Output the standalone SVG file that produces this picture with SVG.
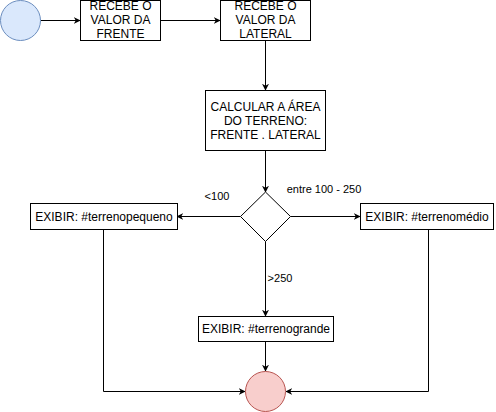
<svg xmlns="http://www.w3.org/2000/svg" width="496" height="412" viewBox="0 0 496 412">
<defs>
<marker id="arr" viewBox="0 0 10 10" refX="9" refY="5" markerWidth="7" markerHeight="7" markerUnits="userSpaceOnUse" orient="auto">
<path d="M0,0 L10,5 L0,10 L3,5 Z" fill="#000"/>
</marker>
</defs>
<style>
.box{fill:#fff;stroke:#000;stroke-width:1}
.t{font-family:"Liberation Sans",Arial,sans-serif;font-size:12px;fill:#000;text-anchor:middle}
.lbl{font-family:"Liberation Sans",Arial,sans-serif;font-size:11px;fill:#000;text-anchor:middle}
.c{fill:none;stroke:#000;stroke-width:1;marker-end:url(#arr)}
</style>
<rect width="496" height="412" fill="#fff"/>
<g id="connectors">
<path class="c" d="M40.5,20.5 H80"/>
<path class="c" d="M160.5,20.5 H220"/>
<path class="c" d="M265.5,40.5 V90"/>
<path class="c" d="M265.5,150.5 V192"/>
<path class="c" d="M240.5,216.5 H177"/>
<path class="c" d="M290.5,216.5 H360"/>
<path class="c" d="M265.5,241.5 V316"/>
<path class="c" d="M265.5,341.5 V371"/>
<path class="c" d="M103.5,229.5 V391.5 H245"/>
<path class="c" d="M428.5,229.5 V391.5 H286"/>
<text class="lbl" x="217" y="200">&lt;100</text>
<text class="lbl" x="324" y="193">entre 100 - 250</text>
<text class="lbl" x="280" y="282">&gt;250</text>
</g>
<g id="start">
<circle cx="20.5" cy="20.5" r="20" fill="#dae8fc" stroke="#6c8ebf"/>
</g>
<g id="frente">
<rect class="box" x="80.5" y="0.5" width="80" height="40"/>
<text class="t" x="120.5" y="10">RECEBE O</text>
<text class="t" x="120.5" y="24">VALOR DA</text>
<text class="t" x="120.5" y="38">FRENTE</text>
</g>
<g id="lateral">
<rect class="box" x="220.5" y="0.5" width="90" height="40"/>
<text class="t" x="265.5" y="10">RECEBE O</text>
<text class="t" x="265.5" y="24">VALOR DA</text>
<text class="t" x="265.5" y="38">LATERAL</text>
</g>
<g id="calcular">
<rect class="box" x="205.5" y="90.5" width="120" height="60"/>
<text class="t" x="265.5" y="111">CALCULAR A ÁREA</text>
<text class="t" x="265.5" y="125">DO TERRENO:</text>
<text class="t" x="265.5" y="139">FRENTE . LATERAL</text>
</g>
<g id="decisao">
<path d="M265.5,192 L290.5,216.5 L265.5,241.5 L240.5,216.5 Z" fill="#fff" stroke="#000"/>
</g>
<g id="pequeno">
<rect class="box" x="30.5" y="203.5" width="147" height="26"/>
<text class="t" x="104" y="220.5">EXIBIR: #terrenopequeno</text>
</g>
<g id="medio">
<rect class="box" x="360.5" y="203.5" width="133" height="26"/>
<text class="t" x="427" y="220.5">EXIBIR: #terrenomédio</text>
</g>
<g id="grande">
<rect class="box" x="198.5" y="316.5" width="135" height="25"/>
<text class="t" x="266" y="333">EXIBIR: #terrenogrande</text>
</g>
<g id="fim">
<circle cx="265.5" cy="391.5" r="20" fill="#f8cecc" stroke="#b85450"/>
</g>
</svg>
